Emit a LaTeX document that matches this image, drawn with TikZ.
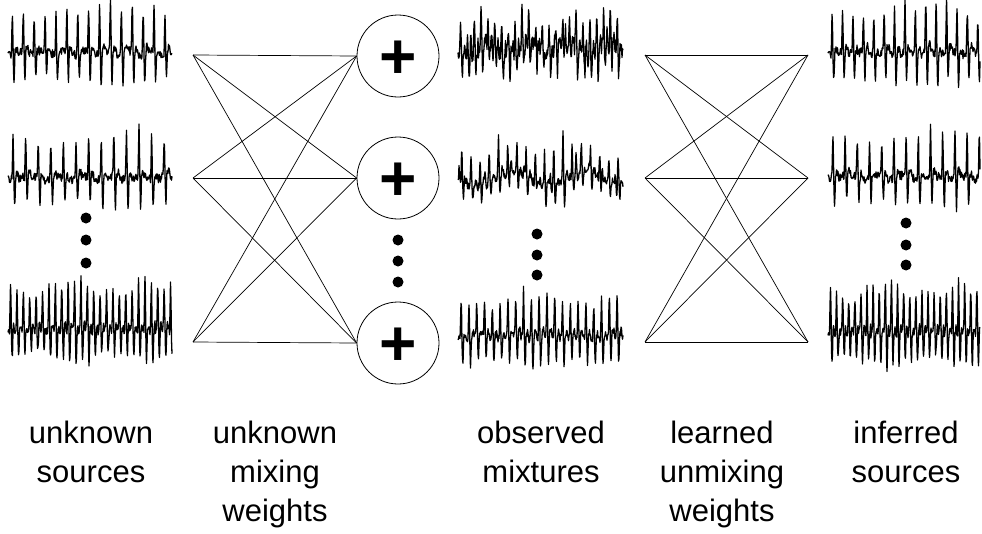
\documentclass[tikz,border=0pt]{standalone}
\usepackage{fontspec}
\setmainfont{Liberation Sans}
\begin{document}
\begin{tikzpicture}[x=1pt,y=-1pt,
  declare function={
    tri(\dx,\wx)=max(0,1-abs(\dx)/\wx);
    beat(\tx,\Px,\Ux,\Dx)=(1+0.15*sin(331*floor(\tx/\Px)))*(-\Ux*tri(mod(\tx,\Px)-0.4*\Px,1.0)+\Dx*tri(mod(\tx,\Px)-0.4*\Px-1.6,1.0)-6*tri(mod(\tx,\Px)-0.4*\Px-4,2));
  },
  trace/.style={line width=1.3pt, line join=round},
  wire/.style={line width=0.7pt},
  sumnode/.style={circle, draw, line width=0.8pt, minimum size=82pt, inner sep=0pt, text height=45pt, text depth=0pt, font=\fontsize{64}{64}\selectfont\bfseries},
  dotnode/.style={circle, fill, inner sep=0pt, minimum size=11pt},
  lab/.style={font=\fontsize{31}{39}\selectfont, align=center, anchor=north, inner sep=0pt}
]
\useasboundingbox (0,0) rectangle (982,533);

% ---- unknown sources
\pgfmathsetseed{11}
\draw[trace] plot[domain=0:164, samples=329, variable=\tq] ({8+\tq}, {53+beat(\tq,10.9,48,32)+4.5*rand+2*sin(\tq*17)});
\pgfmathsetseed{23}
\draw[trace] plot[domain=0:164, samples=329, variable=\tq] ({8+\tq}, {178+beat(\tq,12.6,46,30)+4.5*rand+2*sin(\tq*13)});
\pgfmathsetseed{37}
\draw[trace] plot[domain=0:164, samples=329, variable=\tq] ({8+\tq}, {330+beat(\tq,6.4,48,32)+5*rand});
\node[dotnode] (ld1) at (86,218) {};
\node[dotnode] (ld2) at (86,240) {};
\node[dotnode] (ld3) at (86,263) {};

% ---- mixing network
\coordinate (a1) at (193,55);
\coordinate (a2) at (193,178);
\coordinate (a3) at (193,342);
\node[sumnode] (p1) at (398,56) {+};
\node[sumnode] (p2) at (398,178) {+};
\node[sumnode] (p3) at (398,343) {+};
\foreach \i in {1,2,3}{
  \foreach \j in {1,2,3}{
    \draw[wire] (a\i) -- (p\j.west);
  }
}
\node[dotnode] (pd1) at (398,240) {};
\node[dotnode] (pd2) at (398,261) {};
\node[dotnode] (pd3) at (398,282) {};

% ---- observed mixtures
\pgfmathsetseed{41}
\draw[trace] plot[domain=0:165, samples=331, variable=\tq] ({458+\tq}, {50+beat(\tq,6.8,32,24)+0.6*beat(\tq+2,10.5,24,18)+9*rand+5*sin(\tq*9)});
\pgfmathsetseed{53}
\draw[trace] plot[domain=0:165, samples=331, variable=\tq] ({458+\tq}, {180+beat(\tq,9.2,36,18)+0.5*beat(\tq+4,13,28,14)+4.5*rand+7*sin(\tq*5)});
\pgfmathsetseed{67}
\draw[trace] plot[domain=0:165, samples=331, variable=\tq] ({458+\tq}, {337+beat(\tq,7.8,44,30)+4*rand+2*sin(\tq*11)});
\node[dotnode] (md1) at (537,234) {};
\node[dotnode] (md2) at (537,255) {};
\node[dotnode] (md3) at (537,275) {};

% ---- unmixing network
\coordinate (b1) at (645,55);
\coordinate (b2) at (645,178);
\coordinate (b3) at (645,342);
\coordinate (c1) at (808,55);
\coordinate (c2) at (808,178);
\coordinate (c3) at (808,342);
\foreach \i in {1,2,3}{
  \foreach \j in {1,2,3}{
    \draw[wire] (b\i) -- (c\j);
  }
}

% ---- inferred sources
\pgfmathsetseed{11}
\draw[trace] plot[domain=0:152, samples=305, variable=\tq] ({828+\tq}, {53+beat(\tq,10.4,48,32)+4.5*rand+2*sin(\tq*17)});
\pgfmathsetseed{23}
\draw[trace] plot[domain=0:152, samples=305, variable=\tq] ({828+\tq}, {177+beat(\tq,12.2,46,30)+4.5*rand+2*sin(\tq*13)});
\pgfmathsetseed{37}
\draw[trace] plot[domain=0:152, samples=305, variable=\tq] ({828+\tq}, {333+beat(\tq,6.1,48,32)+5*rand});
\node[dotnode] (rd1) at (906,223) {};
\node[dotnode] (rd2) at (906,245) {};
\node[dotnode] (rd3) at (906,265) {};

% ---- labels
\node[lab] (l1) at (91,421) {unknown\\sources};
\node[lab] (l2) at (275,421) {unknown\\mixing\\weights};
\node[lab] (l3) at (541,421) {observed\\mixtures};
\node[lab] (l4) at (722,421) {learned\\unmixing\\weights};
\node[lab] (l5) at (906,421) {inferred\\sources};
\end{tikzpicture}
\end{document}
